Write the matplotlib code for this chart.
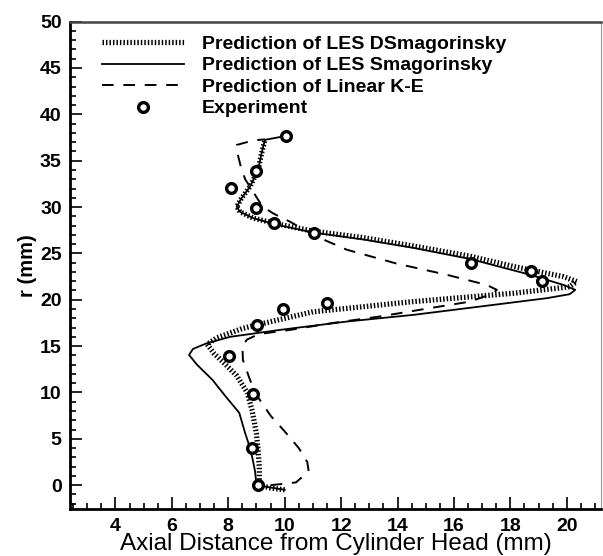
import matplotlib
matplotlib.use('Agg')
import matplotlib.pyplot as plt
import numpy as np
from matplotlib.ticker import MultipleLocator

plt.rcParams['font.family'] = ['Liberation Sans', 'DejaVu Sans']

# LES Dynamic Smagorinsky (hatched line)
dsm_x = [10.0, 9.5, 9.1, 9.1, 9.05, 9.0, 8.85, 8.67, 8.3, 7.91, 7.5, 7.25, 7.6, 8.5, 9.03,
         11.0, 14.55, 18.1, 20.1, 20.35, 19.87, 18.1, 16.57, 14.56, 12.79, 11.01, 9.71,
         8.89, 8.41, 8.3, 8.47, 8.77, 9.06, 9.18, 9.3]
dsm_r = [-0.5, -0.3, 0.0, 2.0, 4.0, 5.5, 8.0, 10.0, 11.8, 13.0, 14.2, 15.2, 15.9, 16.9, 17.3,
         18.7, 19.8, 20.7, 21.4, 21.96, 22.5, 23.6, 24.7, 25.8, 26.7, 27.4, 28.2,
         28.8, 29.5, 30.05, 30.96, 32.2, 34.0, 35.8, 37.25]

# LES Smagorinsky (solid line)
sm_x = [10.0, 9.4, 9.0, 8.95, 8.85, 8.72, 8.6, 8.39, 7.91, 7.44, 6.89, 6.61, 6.75, 7.23,
        8.06, 9.83, 12.2, 14.56, 16.93, 19.29, 20.1, 20.3, 19.88, 18.7, 16.57, 14.56, 12.79,
        11.01, 9.71, 8.89, 8.41, 8.3, 8.47, 8.77, 9.06, 9.18, 9.3, 9.83, 10.05]
sm_r = [-0.5, -0.2, 0.0, 1.5, 3.0, 4.5, 5.6, 7.8, 9.56, 11.36, 13.0, 14.05, 14.7, 15.3,
        16.0, 16.75, 17.65, 18.37, 19.27, 20.17, 20.6, 21.07, 21.6, 22.7, 24.4, 25.6, 26.5,
        27.25, 28.1, 28.8, 29.5, 30.05, 30.96, 32.2, 34.0, 35.8, 37.25, 37.55, 37.7]

# Linear K-E (dashed line)
ke_x = [9.5, 10.4, 10.85, 10.8, 10.5, 10.0, 9.5, 8.94, 8.73, 8.52, 8.5, 8.66, 9.08, 10.19,
        11.72, 13.38, 15.15, 16.57, 17.4, 17.52, 17.16, 15.74, 13.97, 12.2, 11.37, 10.78,
        10.2, 9.6, 9.2, 8.85, 8.6, 8.45, 8.35, 8.3, 8.9, 9.3]
ke_r = [0.0, 0.3, 1.5, 2.5, 4.0, 5.8, 7.5, 10.0, 11.7, 13.5, 15.0, 15.7, 16.3, 16.75,
        17.5, 18.2, 19.1, 19.8, 20.7, 21.07, 21.6, 22.7, 23.9, 25.4, 26.5, 27.4,
        28.4, 29.3, 30.1, 31.8, 33.0, 34.3, 35.5, 36.7, 37.2, 37.3]

# Experiment
exp_x = [10.05, 8.98, 8.08, 8.98, 9.63, 11.05, 16.6, 18.72, 19.11, 11.51, 9.93, 9.03,
         8.02, 8.87, 8.83, 9.05]
exp_r = [37.7, 33.9, 32.1, 29.9, 28.3, 27.2, 24.0, 23.1, 22.0, 19.7, 19.0, 17.3,
         13.95, 9.85, 4.0, 0.0]

fig = plt.figure(figsize=(6.03, 5.56), dpi=100)
ax = fig.add_axes([0.1161, 0.0840, 0.8814, 0.8771])

ax.plot(dsm_x, dsm_r, color='black', lw=3.8, linestyle=(0, (0.28, 0.38)),
        dash_capstyle='butt', label='Prediction of LES DSmagorinsky')
ax.plot(sm_x, sm_r, color='black', lw=1.3, label='Prediction of LES Smagorinsky')
ax.plot(ke_x, ke_r, color='black', lw=1.4, linestyle=(0, (6, 5)),
        label='Prediction of Linear K-E')
ax.plot(exp_x, exp_r, linestyle='none', marker='o', ms=7, mew=2.4, mec='black',
        mfc='white', label='Experiment')

ax.set_xlim(2.39, 21.23)
ax.set_ylim(-2.6, 50)
ax.xaxis.set_major_locator(MultipleLocator(2))
ax.xaxis.set_minor_locator(MultipleLocator(0.5))
ax.yaxis.set_major_locator(MultipleLocator(5))
ax.yaxis.set_minor_locator(MultipleLocator(1))
ax.set_xticks(np.arange(4, 21, 2))
ax.tick_params(which='both', direction='in', top=False, right=False, width=1.2)
ax.tick_params(which='major', length=8.5, labelsize=14, pad=6)
ax.tick_params(which='minor', length=4)
for lab in ax.get_xticklabels() + ax.get_yticklabels():
    lab.set_fontweight('bold')

ax.spines['left'].set_linewidth(2.0)
ax.spines['bottom'].set_linewidth(2.0)
ax.spines['top'].set_linewidth(1.8)
ax.spines['top'].set_color('#444444')
ax.spines['right'].set_linewidth(0.8)
ax.spines['right'].set_color('#999999')

ax.set_xlabel('Axial Distance from Cylinder Head (mm)', fontsize=17.5, labelpad=-1)
ax.set_ylabel('r (mm)', fontsize=14.5, fontweight='bold', labelpad=2)

ax.legend(loc='upper left', bbox_to_anchor=(0.06, 0.972), frameon=False,
          borderpad=0, borderaxespad=0, handlelength=4.2, handletextpad=0.95,
          labelspacing=0.2, prop={'weight': 'bold', 'size': 14})

fig.savefig('out.png', dpi=100)
